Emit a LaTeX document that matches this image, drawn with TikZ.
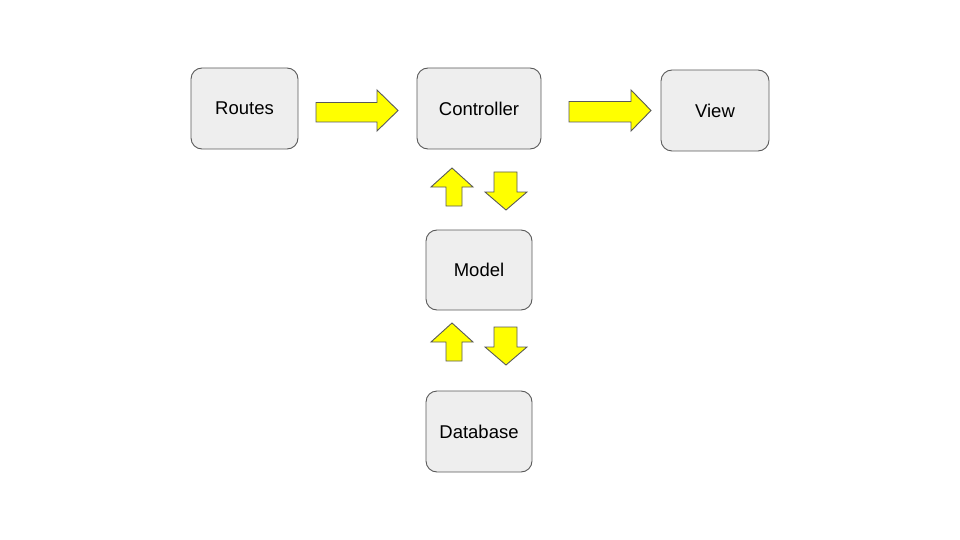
\documentclass[tikz,border=0pt]{standalone}
\usepackage{fontspec}
\setmainfont{Liberation Sans}
\definecolor{boxfill}{HTML}{EEEEEE}
\definecolor{edge}{HTML}{595959}
\definecolor{arrowfill}{HTML}{FFFF00}
\begin{document}
\begin{tikzpicture}[x=1pt,y=-1pt,
  block/.style={draw=edge, fill=boxfill, line width=0.9pt, rounded corners=11pt,
    inner sep=0pt, font=\fontsize{18.5}{22}\selectfont},
  blockarrow/.style={draw=edge, fill=arrowfill, line width=0.9pt, line join=miter}]
\useasboundingbox (0,0) rectangle (960,540);

% boxes
\node[block, minimum width=107pt, minimum height=81pt] (routes) at (244.5,108.5) {Routes};
\node[block, minimum width=124pt, minimum height=81pt] (controller) at (479,108.5) {Controller};
\node[block, minimum width=108pt, minimum height=81pt] (view) at (715,110.5) {View};
\node[block, minimum width=106pt, minimum height=80pt] (model) at (479,270) {Model};
\node[block, minimum width=106pt, minimum height=81pt] (database) at (479,431.5) {Database};

% right-pointing block arrows
\draw[blockarrow] (316,102.5) -- (377,102.5) -- (377,90) -- (398,110.5) -- (377,131)
  -- (377,122) -- (316,122) -- cycle;
\draw[blockarrow] (569,101.5) -- (631,101.5) -- (631,90) -- (651,110.5) -- (631,131)
  -- (631,122) -- (569,122) -- cycle;

% up / down block arrows between Controller and Model
\draw[blockarrow] (446,206) -- (446,187) -- (431,187) -- (452,168) -- (473,187)
  -- (462,187) -- (462,206) -- cycle;
\draw[blockarrow] (494,172) -- (517,172) -- (517,192) -- (527,192) -- (506,210)
  -- (485,192) -- (494,192) -- cycle;

% up / down block arrows between Model and Database
\draw[blockarrow] (446,361) -- (446,342) -- (431,342) -- (452,323) -- (473,342)
  -- (462,342) -- (462,361) -- cycle;
\draw[blockarrow] (494,327) -- (517,327) -- (517,347) -- (527,347) -- (506,365)
  -- (485,347) -- (494,347) -- cycle;
\end{tikzpicture}
\end{document}
